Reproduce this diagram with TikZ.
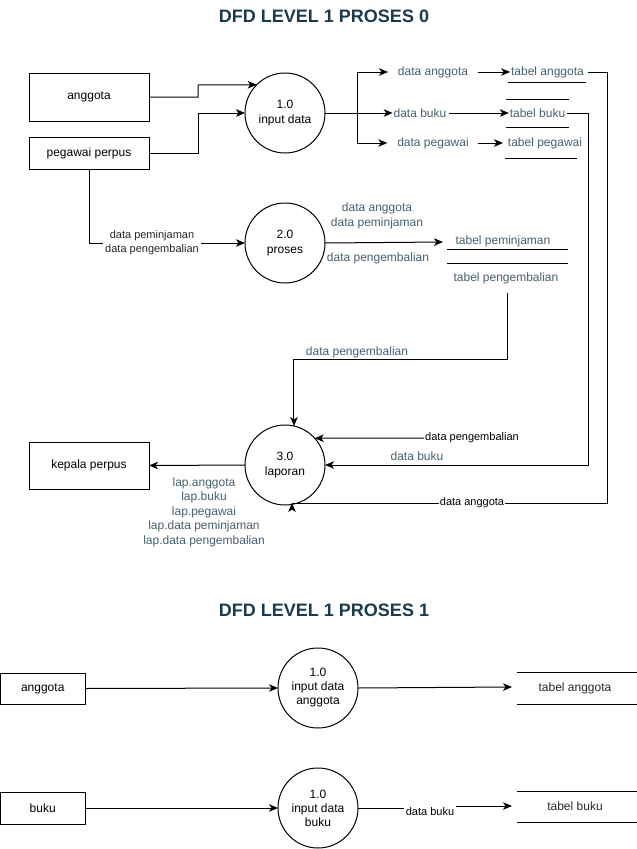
\documentclass[tikz,border=0pt]{standalone}
\usepackage{fontspec}
\setmainfont{Liberation Sans}
\usetikzlibrary{arrows.meta}
\definecolor{titlec}{HTML}{1B3A4B}
\definecolor{labc}{HTML}{44606F}
\begin{document}
\begin{tikzpicture}[x=1pt,y=-1pt,
  every node/.style={inner sep=0pt, outer sep=0pt},
  ent/.style={draw, line width=1pt, minimum width=120pt, minimum height=48pt, font=\fontsize{12}{14}\selectfont, align=center},
  proc/.style={draw, circle, line width=1pt, minimum size=80pt, font=\fontsize{12}{14.5}\selectfont, align=center},
  lbl/.style={text=labc, font=\fontsize{12}{14.5}\selectfont, align=center},
  elbl/.style={text=black, font=\fontsize{11}{13}\selectfont, fill=white, inner sep=1pt},
  ttl/.style={text=titlec, font=\bfseries\fontsize{18}{20}\selectfont},
  flow/.style={line width=1pt, -{Stealth[length=9pt,width=7.5pt,inset=2.5pt]}},
  ln/.style={line width=1pt},
]
\useasboundingbox (0,0) rectangle (637,849);

% ---------- Level 1 proses 0 ----------
\node[ttl] (t0) at (324,16) {DFD LEVEL 1 PROSES 0};

\node[ent] (ang) at (89,97) {anggota};
\node[ent, minimum height=32pt] (peg) at (89,153) {pegawai perpus};
\node[ent, minimum height=47pt] (kep) at (89,465.5) {kepala perpus};

\node[proc] (p1) at (285,113) {1.0\\input data};
\node[proc] (p2) at (285,243) {2.0\\proses};
\node[proc] (p3) at (285,465) {3.0\\laporan};

% inputs to 1.0
\draw[flow] (ang.east) -- (198,97) -- (198,85) -- (p1.135.6);
\draw[flow] (peg.east) -- (198,153) -- (198,113) -- (p1.west);

% pegawai -> 2.0
\draw[flow] (peg.south) -- (89,243) -- (p2.west);
\node[lbl, fill=white, inner sep=2pt, text=black!85, font=\fontsize{11}{14}\selectfont] (dpp) at (152,243) {data peminjaman\\data pengembalian};

% outputs of 1.0
\node[lbl] (dang) at (433,72) {data anggota};
\node[lbl] (dbuk) at (420,113) {data buku};
\node[lbl] (dpeg) at (433,143) {data pegawai};
\node[lbl] (tang) at (547.5,72) {tabel anggota};
\node[lbl] (tbuk) at (537.5,113) {tabel buku};
\node[lbl] (tpeg) at (545,143) {tabel pegawai};

\coordinate (br) at (357,113);
\draw[flow] (p1.east) -- ([xshift=-1pt]dbuk.west);
\draw[flow] (br) |- ([xshift=-10pt]dang.west);
\draw[flow] (br) |- ([xshift=-10pt]dpeg.west);
\draw[flow] ([xshift=10pt]dang.east) -- ([xshift=-1pt]tang.west);
\draw[flow] ([xshift=3pt]dbuk.east) -- ([xshift=-1pt]tbuk.west);
\draw[flow] ([xshift=9pt]dpeg.east) -- ([xshift=-5pt]tpeg.west);

% store lines
\draw[ln] (508,82) -- (586,82);
\draw[ln] (506,99) -- (569,99);
\draw[ln] (506,127) -- (569,127);
\draw[ln] (505,158) -- (577,158);

% 2.0 -> stores
\node[lbl] (d2a) at (377,216) {data anggota\\data peminjaman};
\node[lbl] (d2b) at (378,258) {data pengembalian};
\coordinate (s2) at (443,242);
\draw[flow] (p2.east) -- (s2);
\draw[ln] (447,249) -- (568,249);
\draw[ln] (447,263) -- (568,263);
\node[lbl] (tpm) at (503,241) {tabel peminjaman};
\node[lbl] (tpg) at (506,278) {tabel pengembalian};

% tabel pengembalian -> 3.0
\coordinate (tpgo) at (507,293);
\draw[flow] (tpgo) -- (507,359) -| (p3.77);
\node[lbl] (dpg1) at (357,352) {data pengembalian};

% data pengembalian (dangling) -> 3.0
\node[elbl] (dpk) at (472,438) {data pengembalian};
\draw[flow] (dpk.west) -- (p3.42.5);

% tabel buku -> 3.0
\draw[flow] ([xshift=2pt]tbuk.east) -- (588,113) -- (588,465) -- (p3.east);
\node[lbl] (dbk3) at (417,456) {data buku};

% tabel anggota -> 3.0
\coordinate (pbot) at (292,503);
\draw[ln] ([xshift=4pt]tang.east) -- (607,72) -- (607,503) -- (pbot);
\draw[flow] (292,508) -- (pbot);
\node[elbl] (dag3) at (472,503) {data anggota};

% 3.0 -> kepala perpus
\draw[flow] (p3.west) -- (kep.east);
\node[lbl] (lap) at (204,512) {lap.anggota\\lap.buku\\lap.pegawai\\lap.data peminjaman\\lap.data pengembalian};

% ---------- Level 1 proses 1 ----------
\node[ttl] (t1) at (324,610) {DFD LEVEL 1 PROSES 1};

\node[ent, minimum width=84.5pt, minimum height=31pt] (ang2) at (42.75,688.5) {anggota};
\node[proc, font=\fontsize{12}{14}\selectfont] (q1) at (318,688) {1.0\\input data\\anggota};
\draw[flow] (ang2.east) -- (q1.west);
\coordinate (s1in) at (512,687);
\draw[flow] (q1.east) -- (s1in);
\draw[ln] (517,672) -- (637,672);
\draw[ln] (517,704) -- (637,704);
\node[lbl, text=black!85] (s1) at (575,688) {tabel anggota};

\node[ent, minimum width=84.5pt, minimum height=32pt] (buku) at (42.75,808) {buku};
\node[proc, font=\fontsize{12}{14}\selectfont] (q2) at (318,808) {1.0\\input data\\buku};
\draw[flow] (buku.east) -- (q2.west);
\node[elbl, fill=none] (dbk2) at (430,812) {data buku};
\draw[ln] (q2.east) -- (404,808);
\coordinate (s2in) at (512,806);
\draw[flow] (456,806) -- (s2in);
\draw[ln] (517,791) -- (637,791);
\draw[ln] (517,822) -- (637,822);
\node[lbl, text=black!85] (s2t) at (575,806) {tabel buku};
\end{tikzpicture}
\end{document}
